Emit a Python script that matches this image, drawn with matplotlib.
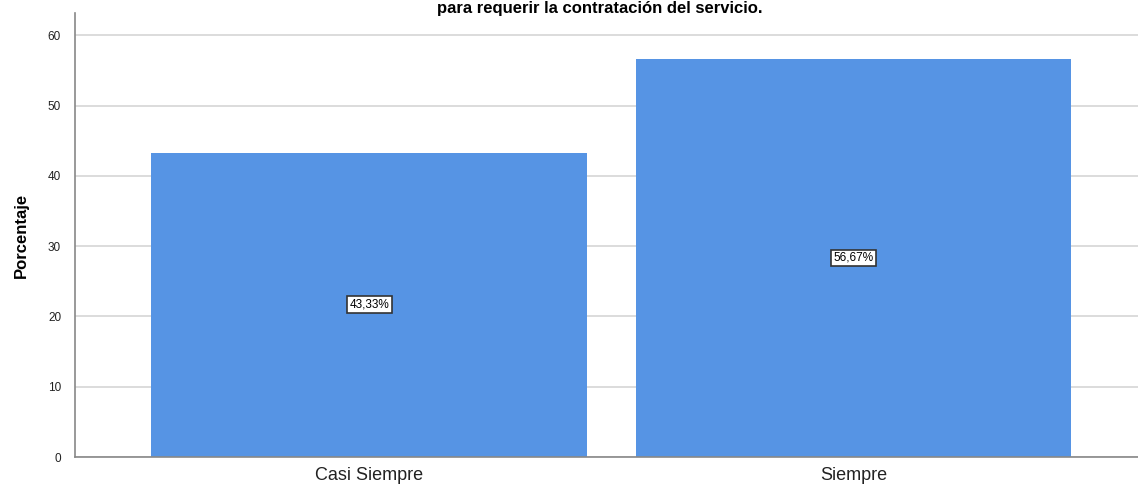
import matplotlib.pyplot as plt

plt.rcParams["font.family"] = ["Liberation Sans", "DejaVu Sans"]

categorias = ["Casi Siempre", "Siempre"]
porcentajes = [43.33, 56.67]
yticks = [0, 10, 20, 30, 40, 50, 60]

BAR_COLOR = "#5694E4"

fig = plt.figure(figsize=(11.38, 4.86), dpi=100, facecolor="white")
ax = fig.add_axes([75 / 1138, 29 / 486, 1 - 75 / 1138, 444 / 486])

x = range(len(categorias))
ax.bar(x, porcentajes, width=0.9, color=BAR_COLOR, zorder=2)

# etiquetas de valor en el centro de cada barra
for xi, v in zip(x, porcentajes):
    ax.text(xi, v / 2, f"{v:.2f}%".replace(".", ","), ha="center", va="center",
            fontsize=8.5, color="black", zorder=3,
            bbox=dict(boxstyle="square,pad=0.2", facecolor="white",
                      edgecolor="#333333", linewidth=1.2))

ax.set_xlim(-0.608, 1.588)
ax.set_ylim(0, 63.2)
ax.set_xticks(list(x))
ax.set_xticklabels(categorias, fontsize=13, color="#222222")
ax.set_yticks(yticks)
ax.set_yticklabels([str(t) for t in yticks], fontsize=8.5, color="#222222")
ax.tick_params(axis="both", length=0)
ax.tick_params(axis="y", pad=10)
ax.tick_params(axis="x", pad=7.5)

ax.grid(axis="y", color="#d6d6d6", linewidth=1.2, zorder=0)
ax.set_axisbelow(True)
for side in ["top", "right"]:
    ax.spines[side].set_visible(False)
for side in ["left", "bottom"]:
    ax.spines[side].set_color("#888888")
    ax.spines[side].set_linewidth(1.2)

ax.set_ylabel("Porcentaje", fontsize=12, fontweight="bold", labelpad=14)

fig.text(600 / 1138, 1 - 1 / 486, "para requerir la contratación del servicio.",
         ha="center", va="top", fontsize=12, fontweight="bold")

fig.savefig("out.png", dpi=100, facecolor=fig.get_facecolor())
